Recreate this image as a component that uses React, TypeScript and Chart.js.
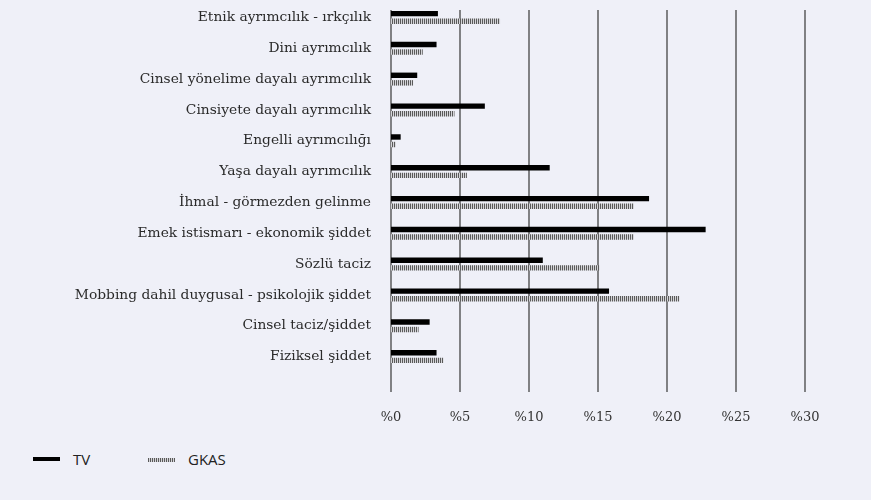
import React, { useEffect, useRef } from "react";
import { Chart, registerables } from "chart.js";

Chart.register(...registerables);

const categories = [
  "Etnik ayrımcılık - ırkçılık",
  "Dini ayrımcılık",
  "Cinsel yönelime dayalı ayrımcılık",
  "Cinsiyete dayalı ayrımcılık",
  "Engelli ayrımcılığı",
  "Yaşa dayalı ayrımcılık",
  "İhmal - görmezden gelinme",
  "Emek istismarı - ekonomik şiddet",
  "Sözlü taciz",
  "Mobbing dahil duygusal - psikolojik şiddet",
  "Cinsel taciz/şiddet",
  "Fiziksel şiddet",
];
const tvValues = [3.4, 3.3, 1.9, 6.8, 0.7, 11.5, 18.7, 22.8, 11.0, 15.8, 2.8, 3.3];
const gkasValues = [7.9, 2.3, 1.6, 4.6, 0.35, 5.5, 17.6, 17.6, 15.1, 20.9, 2.0, 3.8];
const seriesNames = ["TV", "GKAS"];
const xMin = 0;
const xMax = 30;
const xStep = 5;

const BG = "#eff0f8";
const SERIF = "'DejaVu Serif', serif";

function makePattern(): CanvasPattern | string {
  const c = document.createElement("canvas");
  c.width = 2;
  c.height = 1;
  const ctx = c.getContext("2d");
  if (!ctx) return "#888";
  ctx.fillStyle = "#d4d4d8";
  ctx.fillRect(0, 0, 2, 1);
  ctx.fillStyle = "#5a5a5a";
  ctx.fillRect(0, 0, 1, 1);
  return ctx.createPattern(c, "repeat") || "#888";
}

const gridPlugin = {
  id: "customGrid",
  beforeDatasetsDraw(chart: any) {
    const { ctx, chartArea, scales } = chart;
    const x = scales.x;
    ctx.save();
    ctx.strokeStyle = "#444";
    ctx.lineWidth = 1.3;
    x.ticks.forEach((t: any) => {
      const px = x.getPixelForValue(t.value);
      ctx.beginPath();
      ctx.moveTo(px, chartArea.top + 8);
      ctx.lineTo(px, chartArea.bottom + 20);
      ctx.stroke();
    });
    ctx.restore();
  },
};

export default function App() {
  const ref = useRef<HTMLCanvasElement | null>(null);

  useEffect(() => {
    if (!ref.current) return;
    const pattern = makePattern();
    const chart = new Chart(ref.current, {
      type: "bar",
      data: {
        labels: categories,
        datasets: [
          {
            label: seriesNames[0],
            data: tvValues,
            backgroundColor: "#000",
            categoryPercentage: 0.49,
            barPercentage: 0.72,
          },
          {
            label: seriesNames[1],
            data: gkasValues,
            backgroundColor: pattern as any,
            categoryPercentage: 0.49,
            barPercentage: 0.72,
          },
        ],
      },
      options: {
        indexAxis: "y",
        responsive: false,
        animation: false,
        layout: { padding: { top: 2, right: 66, left: 0, bottom: 0 } },
        plugins: {
          legend: { display: false },
          tooltip: { enabled: false },
        },
        scales: {
          x: {
            min: xMin,
            max: xMax,
            border: { display: false },
            grid: { display: false },
            ticks: {
              stepSize: xStep,
              padding: 30,
              color: "#333",
              font: { family: SERIF, size: 13 },
              callback: (v: any) => "%" + v,
            },
            afterFit: (s: any) => {
              s.height = 68;
            },
          },
          y: {
            border: { display: false },
            grid: { display: true, color: "rgba(0,0,0,0)", drawTicks: true, tickLength: 20 },
            ticks: {
              padding: 0,
              color: "#2a2a2a",
              font: { family: SERIF, size: 13.8 },
              autoSkip: false,
            },
            afterFit: (s: any) => {
              s.width = 391;
              s.paddingTop = 0;
              s.paddingBottom = 0;
            },
          },
        },
      },
      plugins: [gridPlugin],
    });
    return () => chart.destroy();
  }, []);

  const legendText: React.CSSProperties = {
    position: "absolute",
    top: 449,
    fontFamily: "'Open Sans', sans-serif",
    fontSize: 15,
    color: "#222",
    lineHeight: "20px",
  };

  return (
    <div style={{ position: "fixed", inset: 0, background: BG }}>
      <canvas ref={ref} width={871} height={440} style={{ position: "absolute", left: 0, top: 0 }} />
      <div style={{ position: "absolute", left: 33, top: 457, width: 27, height: 4, background: "#000" }} />
      <div style={{ ...legendText, left: 73 }}>{seriesNames[0]}</div>
      <div
        style={{
          position: "absolute",
          left: 148,
          top: 458,
          width: 27,
          height: 4,
          background: "repeating-linear-gradient(90deg, #5a5a5a 0 1px, #d4d4d8 1px 2px)",
        }}
      />
      <div style={{ ...legendText, left: 188 }}>{seriesNames[1]}</div>
    </div>
  );
}
